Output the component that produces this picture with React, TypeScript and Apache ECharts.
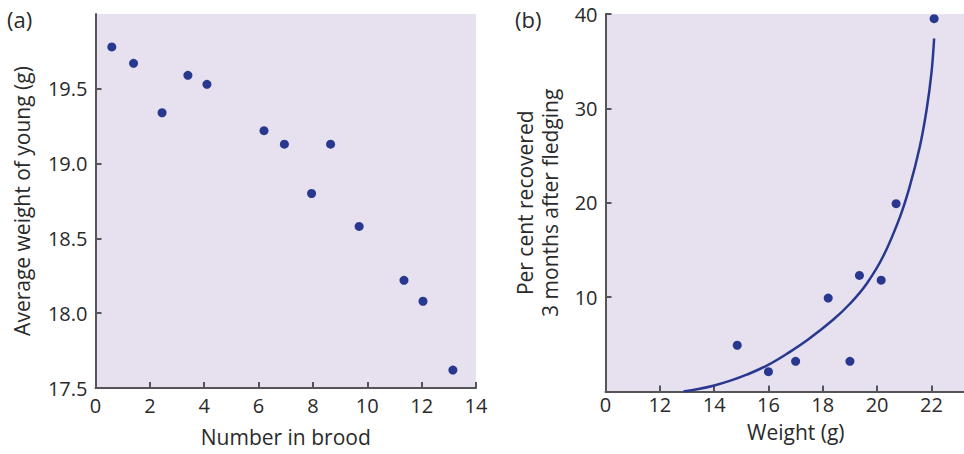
import React, { useEffect, useRef } from "react";
import * as echarts from "echarts";

// Panel (a): brood size vs average weight of young
const broodNumber = [0.6, 1.4, 2.45, 3.4, 4.1, 6.2, 6.95, 7.95, 8.65, 9.7, 11.35, 12.05, 13.15];
const broodWeight = [19.78, 19.67, 19.34, 19.59, 19.53, 19.22, 19.13, 18.8, 19.13, 18.58, 18.22, 18.08, 17.62];

// Panel (b): fledging weight vs per cent recovered
const fledgeWeight = [14.85, 16.0, 17.0, 18.2, 19.0, 19.35, 20.15, 20.7, 22.1];
const percentRecovered = [4.9, 2.1, 3.2, 9.9, 3.2, 12.3, 11.8, 19.9, 39.5];

// Fitted curve in panel (b)
const curveX = [12.87, 13.42, 13.97, 14.6, 15.2, 15.99, 16.79, 17.46, 18.38, 19.0, 19.61, 20.22, 20.83, 21.2, 21.57, 21.82, 22.0, 22.1];
const curveY = [0, 0.26, 0.61, 1.15, 1.78, 2.82, 4.2, 5.5, 7.6, 9.3, 11.4, 14.3, 18.4, 21.7, 25.9, 29.8, 33.7, 37.4];

const FONT = "Open Sans";
const TEXT = "#2a2a2a";
const AXIS = "#555559";
const BLUE = "#29388F";
const BG = "#E6E0EF";

export default function App() {
  const ref = useRef<HTMLDivElement>(null);
  useEffect(() => {
    if (!ref.current) return;
    const chart = echarts.init(ref.current, null, { renderer: "svg" });
    const axisLine = { show: true, lineStyle: { color: AXIS, width: 2 } };
    const axisTick = { show: true, inside: true, length: 6, lineStyle: { color: AXIS, width: 2 } };
    const labelStyle = { color: TEXT, fontFamily: FONT, fontSize: 20, lineHeight: 20 };
    const nameStyle = { color: TEXT, fontFamily: FONT, fontSize: 21, lineHeight: 25 };
    chart.setOption({
      animation: false,
      textStyle: { fontFamily: FONT },
      grid: [
        { left: 95.5, top: 14, width: 380.5, height: 378.5, show: true, backgroundColor: BG, borderWidth: 0 },
        { left: 605.5, top: 14, width: 358.5, height: 377.5, show: true, backgroundColor: BG, borderWidth: 0 },
      ],
      xAxis: [
        {
          gridIndex: 0, type: "value", min: 0, max: 14, interval: 2,
          axisLine, axisTick, splitLine: { show: false },
          axisLabel: { ...labelStyle, margin: 7 },
          name: "Number in brood", nameLocation: "middle", nameGap: 36, nameTextStyle: nameStyle,
        },
        {
          gridIndex: 1, type: "value", min: 10, max: 23.2, interval: 2,
          axisLine, axisTick, splitLine: { show: false },
          axisLabel: {
            ...labelStyle, margin: 3, showMaxLabel: false,
            formatter: (v: number) => (v === 10 ? "0" : v > 22.5 ? "" : String(v)),
          },
          name: "Weight (g)", nameLocation: "middle", nameGap: 26,
          nameTextStyle: { ...nameStyle, padding: [0, 0, 0, 22] },
        },
      ],
      yAxis: [
        {
          gridIndex: 0, type: "value", min: 17.5, max: 20, interval: 0.5,
          axisLine, axisTick, splitLine: { show: false },
          axisLabel: {
            ...labelStyle, margin: 8, showMaxLabel: false,
            formatter: (v: number) => (v >= 20 ? "" : v.toFixed(1)),
          },
          name: "Average weight of young (g)", nameLocation: "middle", nameRotate: 90, nameGap: 61,
          nameTextStyle: nameStyle,
        },
        {
          gridIndex: 1, type: "value", min: 0, max: 40, interval: 10,
          axisLine, axisTick, splitLine: { show: false },
          axisLabel: {
            ...labelStyle, margin: 8, showMinLabel: false,
            formatter: (v: number) => (v === 0 ? "" : String(v)),
          },
          name: "Per cent recovered\n3 months after fledging", nameLocation: "middle", nameRotate: 90, nameGap: 43,
          nameTextStyle: { ...nameStyle, align: "center" },
        },
      ],
      graphic: [
        { type: "text", left: 7, top: 8, style: { text: "(a)", fill: TEXT, font: `22px "${FONT}"` } },
        { type: "text", left: 515, top: 8, style: { text: "(b)", fill: TEXT, font: `22px "${FONT}"` } },
      ],
      series: [
        {
          type: "scatter", xAxisIndex: 0, yAxisIndex: 0, symbolSize: 9,
          itemStyle: { color: BLUE, opacity: 1 },
          data: broodNumber.map((x, i) => [x, broodWeight[i]]),
        },
        {
          type: "line", xAxisIndex: 1, yAxisIndex: 1, showSymbol: false, smooth: 0.4,
          lineStyle: { color: BLUE, width: 2.5 },
          data: curveX.map((x, i) => [x, curveY[i]]),
        },
        {
          type: "scatter", xAxisIndex: 1, yAxisIndex: 1, symbolSize: 9,
          itemStyle: { color: BLUE, opacity: 1 },
          data: fledgeWeight.map((x, i) => [x, percentRecovered[i]]),
        },
      ],
    });
    return () => chart.dispose();
  }, []);
  return <div ref={ref} style={{ position: "absolute", left: 0, top: 0, width: 964, height: 454 }} />;
}
